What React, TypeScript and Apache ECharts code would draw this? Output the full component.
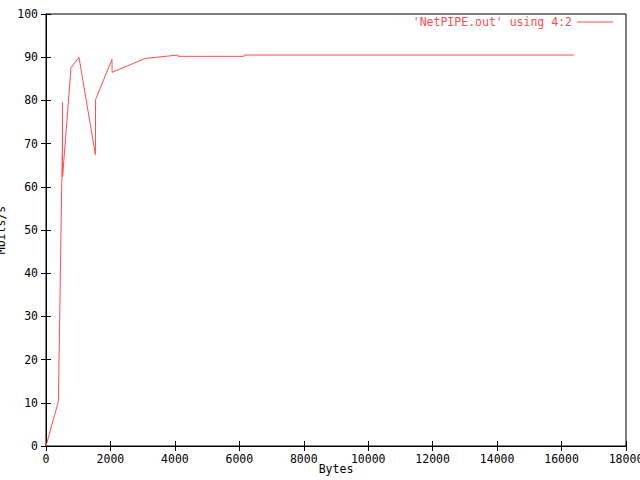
import React, { useEffect, useRef } from "react";
import * as echarts from "echarts";

const bytes = [1, 384, 509, 512, 515, 765, 768, 1024, 1533, 1539, 2048, 2051, 3072, 4096, 4099, 6144, 6147, 16384];
const mbits = [0.0, 10.3, 70.0, 79.5, 62.3, 86.5, 87.5, 90.0, 67.4, 80.2, 89.5, 86.5, 89.7, 90.5, 90.2, 90.2, 90.5, 90.5];
const seriesName = "'NetPIPE.out' using 4:2";
const xTitle = "Bytes";
const yTitle = "Mbits/s";

const FONT = "DejaVu Sans Mono";
const RED = "#ff4d4d";

export default function App() {
  const ref = useRef<HTMLDivElement>(null);
  useEffect(() => {
    if (!ref.current) return;
    const chart = echarts.init(ref.current, null, { renderer: "svg" });
    const data = bytes.map((b, i) => [b, mbits[i]]);
    const axisCommon = {
      axisLine: { show: true, lineStyle: { color: "#000", width: 1 } },
      axisTick: { show: true, inside: true, length: 5, lineStyle: { color: "#000" } },
      splitLine: { show: false },
    };
    const fmt = (v: number) => String(v);
    chart.setOption({
      animation: false,
      backgroundColor: "#fff",
      grid: {
        left: 46, right: 14, top: 14, bottom: 34,
        show: true, borderColor: "#000", borderWidth: 1,
        containLabel: false, outerBoundsMode: "none",
      },
      legend: {
        right: 27,
        top: 16,
        padding: 0,
        align: "right",
        icon: "rect",
        itemWidth: 36,
        itemHeight: 1,
        textStyle: { color: RED, fontFamily: FONT, fontSize: 11.5 },
        data: [{ name: seriesName, itemStyle: { color: RED } }],
      },
      xAxis: [
        {
          type: "value",
          min: 0,
          max: 18000,
          interval: 2000,
          name: xTitle,
          nameLocation: "middle",
          nameGap: 17,
          nameMoveOverlap: false,
          nameTextStyle: { fontFamily: FONT, fontSize: 11.5, color: "#000" },
          axisLabel: { fontFamily: FONT, fontSize: 11.5, color: "#000", margin: 7, formatter: fmt },
          ...axisCommon,
        },
        {
          type: "value",
          position: "top",
          min: 0,
          max: 18000,
          interval: 2000,
          axisLabel: { show: false },
          ...axisCommon,
        },
      ],
      yAxis: [
        {
          type: "value",
          min: 0,
          max: 100,
          interval: 10,
          name: yTitle,
          nameLocation: "middle",
          nameGap: 39,
          nameRotate: 90,
          nameMoveOverlap: false,
          nameTextStyle: { fontFamily: FONT, fontSize: 11.5, color: "#000" },
          axisLabel: { fontFamily: FONT, fontSize: 11.5, color: "#000", margin: 8, formatter: fmt },
          ...axisCommon,
        },
        {
          type: "value",
          position: "right",
          min: 0,
          max: 100,
          interval: 10,
          axisLabel: { show: false },
          ...axisCommon,
        },
      ],
      series: [
        {
          name: seriesName,
          type: "line",
          data,
          showSymbol: false,
          symbol: "none",
          lineStyle: { color: RED, width: 1 },
          itemStyle: { color: RED },
        },
      ],
    });
    return () => chart.dispose();
  }, []);
  return <div ref={ref} style={{ width: 640, height: 480, position: "absolute", left: 0, top: 0 }} />;
}
